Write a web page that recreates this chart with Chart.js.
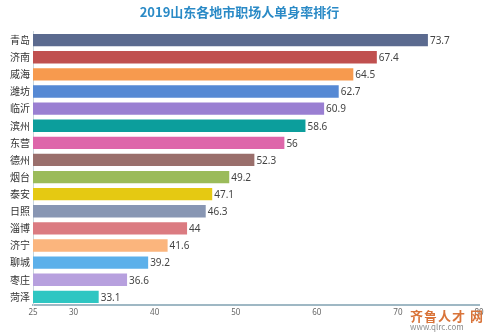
<!DOCTYPE html>
<html>
<head>
<meta charset="utf-8">
<script src="https://cdn.jsdelivr.net/npm/chart.js@4"></script>
<style>
  html, body { margin: 0; padding: 0; background: #fff; }
  #wrap { position: relative; width: 500px; height: 335px; }
  #mark { position: absolute; right: 16px; bottom: 4px; font-family: "Noto Sans CJK SC", sans-serif; line-height: 1; text-align: left; }
  #mark .t { font-size: 13px; font-weight: bold; color: #d9743a; letter-spacing: 1px; }
  #mark .u { font-size: 8px; color: #8a8a8a; margin-top: 1px; }
</style>
</head>
<body>
<div id="wrap">
  <canvas id="chart" width="500" height="335"></canvas>
  <div id="mark"><div class="t">齐鲁人才 网</div><div class="u">www.qlrc.com</div></div>
</div>
<script>
const cities = ["青岛", "济南", "威海", "潍坊", "临沂", "滨州", "东营", "德州", "烟台", "泰安", "日照", "淄博", "济宁", "聊城", "枣庄", "菏泽"];
const rates = [73.7, 67.4, 64.5, 62.7, 60.9, 58.6, 56, 52.3, 49.2, 47.1, 46.3, 44, 41.6, 39.2, 36.6, 33.1];
const barColors = ["#5b6a8f", "#c0504f", "#f79a4e", "#5689d4", "#9a7fd2", "#0c9e9c", "#de66aa", "#9a6f6c", "#9bbb5a", "#e5c912", "#8896b3", "#db7b81", "#fbb57d", "#5cb0ea", "#b7a0de", "#2ec6c2"];
const xTicks = [25, 30, 40, 50, 60, 70, 80];

// value labels at the end of each bar
const valueLabels = {
    id: "valueLabels",
    afterDatasetsDraw(chart) {
        const c = chart.ctx;
        const meta = chart.getDatasetMeta(0);
        c.save();
        c.font = "10px 'Noto Sans', sans-serif";
        c.fillStyle = "#444";
        c.textBaseline = "middle";
        c.textAlign = "left";
        meta.data.forEach((bar, i) => {
            c.fillText(String(rates[i]), bar.x + 2, bar.y + 1);
        });
        c.restore();
    }
};

const ctx = document.getElementById("chart").getContext("2d");

let chart = new Chart(ctx, {
    type: "bar",
    data: {
        labels: cities,
        datasets: [{
            data: rates,
            backgroundColor: barColors,
            barPercentage: 0.72,
            categoryPercentage: 1
        }]
    },
    options: {
        indexAxis: "y",
        responsive: false,
        animation: false,
        layout: { padding: { left: 0, right: 21, top: 0, bottom: 14 } },
        plugins: {
            legend: { display: false },
            tooltip: { enabled: false },
            title: {
                display: true,
                text: "2019山东各地市职场人单身率排行",
                color: "#2a8ac6",
                font: { family: "'Noto Sans CJK SC', sans-serif", size: 13, weight: "bold" },
                padding: { top: 4, bottom: 12 }
            }
        },
        scales: {
            x: {
                min: 25,
                max: 80,
                afterBuildTicks: scale => {
                    scale.ticks = xTicks.map(v => ({ value: v }));
                },
                grid: { display: false, drawTicks: false },
                border: { color: "#9fb8c4", width: 2 },
                ticks: {
                    color: "#666",
                    font: { family: "'Noto Sans', sans-serif", size: 8 },
                    padding: 3,
                    maxRotation: 0,
                    autoSkip: false
                }
            },
            y: {
                afterFit: scale => { scale.width = 33; },
                grid: { display: false, drawTicks: false },
                border: { color: "#c9d6dc", width: 1 },
                ticks: {
                    color: "#333",
                    font: { family: "'Noto Sans CJK SC', sans-serif", size: 10 },
                    padding: 3,
                    autoSkip: false
                }
            }
        }
    },
    plugins: [valueLabels]
});
</script>
</body>
</html>
